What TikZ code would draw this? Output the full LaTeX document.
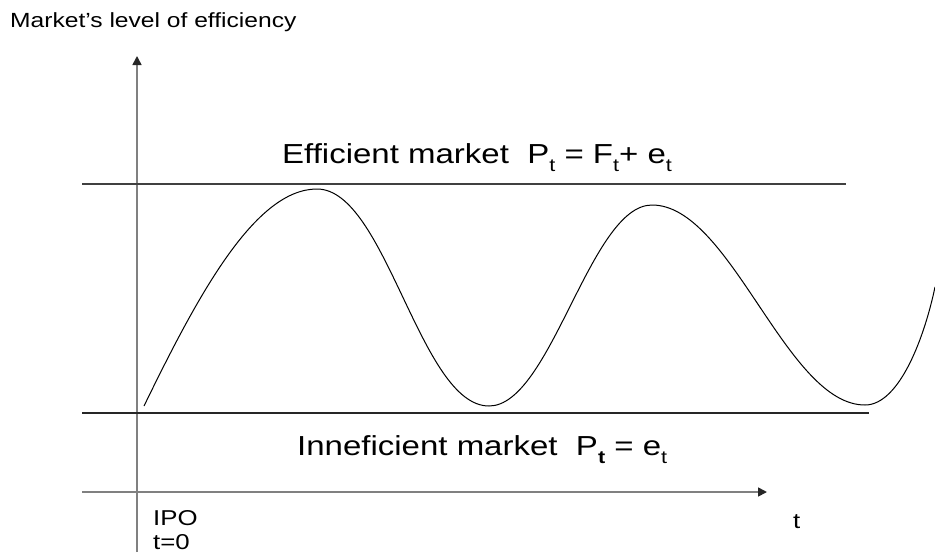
\documentclass[tikz,border=0pt]{standalone}
\usepackage{fontspec}
\setmainfont{Liberation Sans}
\newfontfamily\widesans[FakeStretch=1.2]{Liberation Sans}
\usetikzlibrary{arrows.meta, positioning}
\newcommand{\lowsub}[1]{\raisebox{-0.3em}{\fontsize{18}{18}\selectfont #1}}
\tikzset{
  axis/.style = {draw=black!50, line width=1.6pt,
    -{Triangle[length=9pt,width=9pt,color=black!85]}},
  level/.style = {draw=black!75, line width=1.6pt},
  curve/.style = {draw=black, line width=1pt},
  biglabel/.style = {anchor=base west, inner sep=0pt, font=\widesans\fontsize{27.5}{32}\selectfont},
  smalllabel/.style = {anchor=base west, inner sep=0pt, font=\widesans\fontsize{21.5}{24}\selectfont},
  title/.style = {anchor=base west, inner sep=0pt, font=\widesans\fontsize{20.5}{22}\selectfont},
}
\begin{document}
\begin{tikzpicture}[x=1pt, y=-1pt]
  \useasboundingbox (0,0) rectangle (935,552);

  % Axes
  \coordinate (ybot) at (137,552);
  \coordinate (ytop) at (137,56);
  \coordinate (xleft) at (82,492);
  \coordinate (xright) at (767,492);
  \draw[axis] (ybot) -- (ytop);
  \draw[axis] (xleft) -- (xright);

  % Efficiency levels
  \draw[level] (82,184) -- (846,184);
  \draw[level, draw=black!85, line width=1.3pt] (82,413) -- (869,413);

  % Efficiency path
  \draw[curve] (144,406) .. controls (198,295) and (255,189) .. (317,189)
    .. controls (386,189) and (420,406) .. (489,406)
    .. controls (551,406) and (590,205) .. (652,205)
    .. controls (731,205) and (786,405) .. (865,405)
    .. controls (900,405) and (925,335) .. (935,287);

  % Labels
  \node[title] (ttl) at (10,27) {Market’s level of efficiency};
  \node[biglabel] (eff) at (282,163) {Efficient market\ \ P\lowsub{t} = F\lowsub{t}+ e\lowsub{t}};
  \node[biglabel] (ineff) at (297,455) {Inneficient market\ \ P\lowsub{\textbf{t}} = e\lowsub{t}};
  \node[smalllabel] (ipo) at (153,525) {IPO};
  \node[smalllabel] (tzero) at (153,549) {t=0};
  \node[smalllabel] (tlab) at (793,528) {t};

\end{tikzpicture}
\end{document}
